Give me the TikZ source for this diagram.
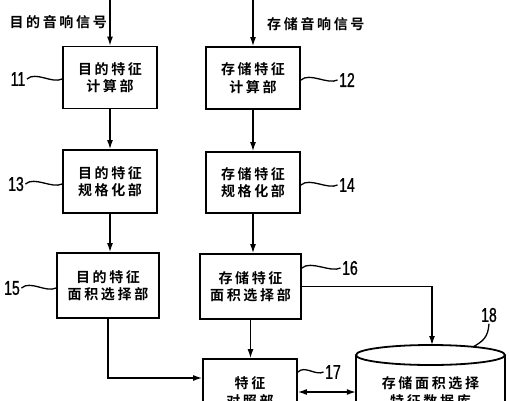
\documentclass[tikz,border=0pt]{standalone}
\usepackage{fontspec}
\newfontfamily\cjk[UprightFont=* Bold, LetterSpace=19]{Noto Sans CJK SC}
\newfontfamily\numfont[FakeStretch=0.7, FakeBold=1]{Liberation Sans}
\usetikzlibrary{arrows.meta}
\tikzset{>={Latex[length=9pt,width=6pt]}}

\begin{document}
\begin{tikzpicture}[x=1pt, y=-1pt,
    box/.style={draw, line width=1.8pt, minimum width=94pt, minimum height=62pt,
      align=center, inner sep=0pt, font=\cjk\fontsize{14}{17.5}\selectfont},
    wire/.style={line width=1.3pt},
    tag/.style={font=\numfont\fontsize{20}{20}\selectfont, inner sep=1pt},
    sig/.style={font=\cjk\fontsize{14}{18}\selectfont, inner sep=0pt, align=center}]
    \useasboundingbox (0,0) rectangle (509,400);
    \clip (0,0) rectangle (509,400);

    \node[box] (b11) at (110,77.5) {目的特征\\计算部};
    \node[box] (b12) at (253,78) {存储特征\\计算部};
    \node[box, minimum height=63pt] (b13) at (110,181.5) {目的特征\\规格化部};
    \node[box, minimum height=61pt] (b14) at (253,182.5) {存储特征\\规格化部};
    \node[box, minimum width=102pt, minimum height=65pt] (b15) at (108,285.5) {目的特征\\面积选择部};
    \node[box, minimum width=101pt, minimum height=65pt] (b16) at (250.5,286.5) {存储特征\\面积选择部};
    \node[box, minimum height=66pt] (b17) at (250,392) {特征\\对照部};

    \coordinate (in1) at (110,0);
    \coordinate (in2) at (253,0);
    \node[sig, anchor=east] (s1) at (107,22) {目的音响信号};
    \node[sig, anchor=west] (s2) at (267,24) {存储音响信号};

    \begin{scope}[wire, ->]
      \draw (in1) -- (b11.north);
      \draw (in2) -- (b12.north);
      \draw (b11.south) -- (b13.north);
      \draw (b12.south) -- (b14.north);
      \draw (b13.south) -- (b13.south |- b15.north);
      \draw (b14.south) -- (b14.south |- b16.north);
      \draw (b16.south) -- (b16.south |- b17.north);
      \draw (b15.south) |- ([yshift=14pt]b17.west);
    \end{scope}

    % database
    \coordinate (dbc) at (430.5,355);
    \coordinate (dbtop) at (432,345);
    \coordinate (dbrim) at (473,347);
    \draw[line width=1.8pt] (356,355) -- (356,430) (505,355) -- (505,430);
    \draw[line width=1.8pt] (dbc) ellipse [x radius=74.5, y radius=10];
    \node[sig, minimum width=149pt] (db) at (430.5,392) {存储面积选择\\特征数据库};

    \draw[wire, ->] (b16.east) -| (dbtop);
    \draw[wire, <->] (b17.east) -- (b17.east -| db.west);

    \begin{scope}[wire]
      \node[tag] (t11) at (18,79) {11};
      \node[tag] (t13) at (16,184) {13};
      \node[tag] (t15) at (12,288) {15};
      \node[tag] (t12) at (347,80) {12};
      \node[tag] (t14) at (347,185) {14};
      \node[tag] (t16) at (350,268) {16};
      \node[tag] (t17) at (333,372) {17};
      \node[tag] (t18) at (489,315) {18};
      \draw (t11.east) .. controls +(9,-8) and +(-10,5) .. (b11.west |- t11);
      \draw (t13.east) .. controls +(9,-8) and +(-10,5) .. (b13.west |- t13);
      \draw (t15.east) .. controls +(9,-8) and +(-10,5) .. (b15.west |- t15);
      \draw (b12.east |- t12) .. controls +(9,-8) and +(-10,5) .. (t12.west);
      \draw (b14.east |- t14) .. controls +(9,-8) and +(-10,5) .. (t14.west);
      \draw (b16.east |- t16) .. controls +(9,-8) and +(-10,5) .. (t16.west);
      \draw (b17.east |- t17) .. controls +(7,-7) and +(-8,4) .. (t17.west);
      \draw (t18.south) .. controls +(-1,14) and +(10,-6) .. (dbrim);
    \end{scope}
\end{tikzpicture}
\end{document}
